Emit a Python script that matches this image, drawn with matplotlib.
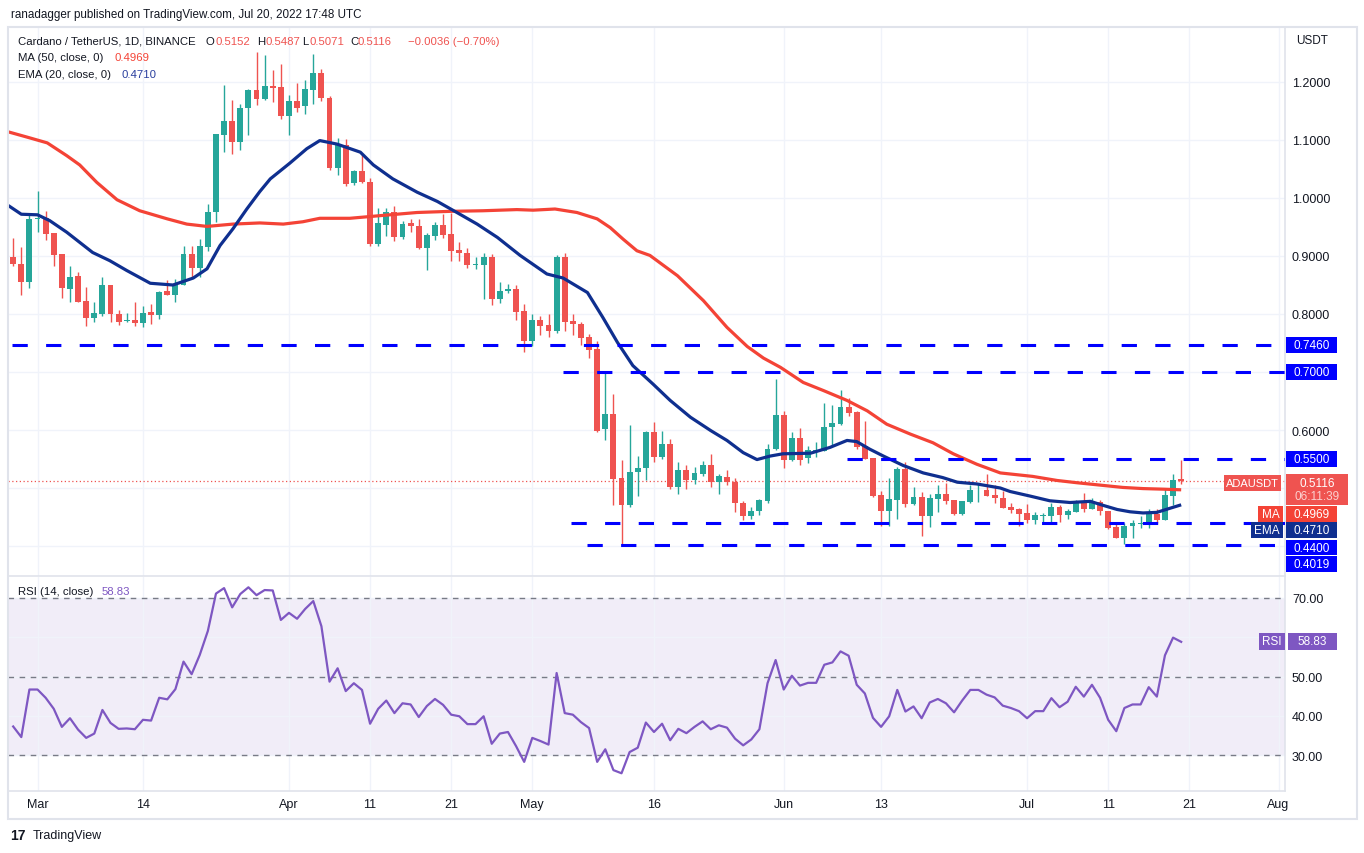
import numpy as np
import pandas as pd
import matplotlib
matplotlib.use('Agg')
import matplotlib.pyplot as plt
from matplotlib.patches import Rectangle

plt.rcParams['font.family'] = ['Liberation Sans', 'DejaVu Sans']

W, H = 1364, 854
BASE = pd.Timestamp('2022-03-01')

# ADA/USDT daily candles, Feb 26 .. Jul 20 2022
dates = pd.date_range('2022-02-26', '2022-07-20', freq='D')
opens = [0.898, 0.886, 0.856, 0.963, 0.966, 0.940, 0.903, 0.843, 0.865, 0.822,
         0.793, 0.800, 0.850, 0.800, 0.788, 0.790, 0.785, 0.803, 0.798, 0.840,
         0.833, 0.850, 0.903, 0.879, 0.916, 0.975, 1.109, 1.133, 1.097, 1.155,
         1.186, 1.171, 1.193, 1.191, 1.142, 1.167, 1.158, 1.187, 1.216, 1.172,
         1.052, 1.091, 1.025, 1.047, 1.027, 0.920, 0.954, 0.975, 0.933, 0.957,
         0.952, 0.914, 0.935, 0.953, 0.938, 0.910, 0.906, 0.885, 0.884, 0.898,
         0.825, 0.839, 0.843, 0.805, 0.754, 0.790, 0.781, 0.770, 0.899, 0.788,
         0.782, 0.760, 0.740, 0.601, 0.628, 0.517, 0.470, 0.527, 0.535, 0.596,
         0.554, 0.576, 0.502, 0.531, 0.513, 0.524, 0.540, 0.511, 0.519, 0.511,
         0.475, 0.452, 0.461, 0.478, 0.567, 0.626, 0.549, 0.586, 0.552, 0.564,
         0.564, 0.606, 0.610, 0.639, 0.631, 0.572, 0.551, 0.488, 0.461, 0.480,
         0.533, 0.472, 0.484, 0.451, 0.481, 0.489, 0.479, 0.455, 0.476, 0.496,
         0.497, 0.488, 0.483, 0.467, 0.464, 0.457, 0.445, 0.452, 0.452, 0.467,
         0.453, 0.459, 0.476, 0.463, 0.476, 0.460, 0.432, 0.413, 0.435, 0.438,
         0.439, 0.455, 0.444, 0.487, 0.5152]
highs = [0.931, 0.915, 0.970, 1.012, 0.977, 0.940, 0.903, 0.882, 0.872, 0.847,
         0.820, 0.864, 0.850, 0.807, 0.802, 0.820, 0.814, 0.817, 0.839, 0.859,
         0.860, 0.918, 0.918, 0.930, 0.990, 1.111, 1.194, 1.169, 1.162, 1.188,
         1.251, 1.247, 1.221, 1.231, 1.178, 1.199, 1.204, 1.248, 1.222, 1.176,
         1.103, 1.102, 1.048, 1.076, 1.034, 0.982, 0.983, 0.987, 0.960, 0.964,
         0.964, 0.939, 0.959, 0.972, 0.974, 0.924, 0.913, 0.899, 0.905, 0.903,
         0.856, 0.852, 0.850, 0.817, 0.800, 0.796, 0.800, 0.901, 0.906, 0.800,
         0.786, 0.766, 0.754, 0.699, 0.662, 0.549, 0.609, 0.555, 0.599, 0.613,
         0.598, 0.585, 0.544, 0.539, 0.536, 0.547, 0.559, 0.524, 0.531, 0.518,
         0.478, 0.468, 0.481, 0.576, 0.688, 0.632, 0.597, 0.603, 0.572, 0.580,
         0.647, 0.643, 0.669, 0.656, 0.633, 0.615, 0.551, 0.495, 0.517, 0.537,
         0.544, 0.501, 0.493, 0.490, 0.506, 0.508, 0.479, 0.478, 0.506, 0.507,
         0.524, 0.506, 0.495, 0.474, 0.465, 0.472, 0.458, 0.457, 0.474, 0.471,
         0.464, 0.480, 0.491, 0.482, 0.480, 0.461, 0.438, 0.439, 0.445, 0.451,
         0.463, 0.464, 0.498, 0.524, 0.5487]
lows = [0.882, 0.833, 0.844, 0.941, 0.928, 0.883, 0.827, 0.820, 0.820, 0.779,
        0.787, 0.797, 0.786, 0.781, 0.787, 0.780, 0.777, 0.782, 0.791, 0.832,
        0.821, 0.850, 0.863, 0.863, 0.909, 0.959, 1.079, 1.075, 1.083, 1.108,
        1.161, 1.169, 1.165, 1.136, 1.108, 1.149, 1.144, 1.162, 1.167, 1.049,
        1.040, 1.021, 1.022, 1.025, 0.918, 0.917, 0.935, 0.925, 0.930, 0.941,
        0.912, 0.875, 0.928, 0.931, 0.892, 0.892, 0.880, 0.878, 0.826, 0.816,
        0.819, 0.837, 0.790, 0.735, 0.745, 0.764, 0.761, 0.767, 0.771, 0.763,
        0.747, 0.725, 0.596, 0.582, 0.471, 0.402, 0.468, 0.487, 0.513, 0.544,
        0.550, 0.499, 0.490, 0.498, 0.507, 0.520, 0.501, 0.490, 0.505, 0.459,
        0.444, 0.447, 0.454, 0.474, 0.566, 0.535, 0.547, 0.539, 0.543, 0.553,
        0.563, 0.572, 0.608, 0.625, 0.568, 0.550, 0.484, 0.435, 0.435, 0.447,
        0.467, 0.470, 0.418, 0.433, 0.459, 0.473, 0.453, 0.453, 0.474, 0.476,
        0.486, 0.474, 0.466, 0.457, 0.434, 0.440, 0.438, 0.442, 0.442, 0.442,
        0.447, 0.458, 0.458, 0.463, 0.453, 0.429, 0.413, 0.403, 0.413, 0.431,
        0.431, 0.440, 0.444, 0.471, 0.5071]
closes = [0.886, 0.856, 0.964, 0.965, 0.938, 0.902, 0.844, 0.863, 0.821, 0.793,
          0.802, 0.850, 0.800, 0.787, 0.789, 0.785, 0.802, 0.799, 0.838, 0.833,
          0.850, 0.903, 0.879, 0.917, 0.976, 1.110, 1.133, 1.097, 1.155, 1.186,
          1.171, 1.193, 1.190, 1.142, 1.167, 1.156, 1.188, 1.216, 1.173, 1.052,
          1.091, 1.024, 1.047, 1.028, 0.920, 0.957, 0.976, 0.933, 0.956, 0.951,
          0.914, 0.937, 0.953, 0.937, 0.909, 0.906, 0.884, 0.886, 0.898, 0.825,
          0.839, 0.843, 0.804, 0.754, 0.790, 0.780, 0.770, 0.899, 0.787, 0.782,
          0.759, 0.738, 0.598, 0.628, 0.516, 0.470, 0.527, 0.534, 0.597, 0.554,
          0.576, 0.502, 0.531, 0.513, 0.526, 0.540, 0.511, 0.521, 0.511, 0.475,
          0.452, 0.461, 0.479, 0.568, 0.626, 0.549, 0.586, 0.549, 0.566, 0.566,
          0.606, 0.612, 0.639, 0.629, 0.570, 0.550, 0.487, 0.461, 0.481, 0.533,
          0.472, 0.484, 0.451, 0.482, 0.489, 0.478, 0.455, 0.477, 0.497, 0.497,
          0.487, 0.482, 0.466, 0.462, 0.455, 0.445, 0.453, 0.453, 0.467, 0.453,
          0.460, 0.477, 0.463, 0.477, 0.460, 0.431, 0.413, 0.435, 0.440, 0.440,
          0.457, 0.444, 0.488, 0.514, 0.5116]

# MA(50) and EMA(20) read at sample points (days from Mar 1)
ma_day = [-3.6, -1.3, 1.2, 3.6, 5.2, 7.3, 9.8, 12.6, 16.0, 18.4, 20.9, 24.1, 27.4,
          30.3, 32.7, 34.8, 38.5, 42.6, 46.8, 50.9, 54.9, 59.1, 61.1, 63.8, 66.5,
          69.0, 70.6, 72.2, 73.9, 75.5, 78.9, 82.1, 85.0, 87.5, 89.5, 91.6, 94.4,
          96.9, 99.8, 102.3, 104.7, 107.6, 110.4, 112.9, 115.8, 118.7, 122.7,
          125.7, 128.2, 131.0, 133.8, 136.3, 138.8, 141.0]
ma_val = [1.114, 1.105, 1.095, 1.073, 1.057, 1.027, 0.997, 0.978, 0.964, 0.955,
          0.951, 0.955, 0.957, 0.955, 0.959, 0.965, 0.965, 0.970, 0.975, 0.977,
          0.978, 0.980, 0.979, 0.981, 0.975, 0.964, 0.949, 0.929, 0.909, 0.901,
          0.866, 0.823, 0.777, 0.744, 0.724, 0.708, 0.682, 0.668, 0.651, 0.633,
          0.610, 0.593, 0.578, 0.559, 0.541, 0.526, 0.520, 0.513, 0.509, 0.505,
          0.501, 0.499, 0.498, 0.4969]
ema_day = [-3.6, -2.0, 0.0, 1.5, 3.6, 6.8, 8.9, 11.0, 13.9, 16.7, 19.2, 20.9,
           22.5, 24.1, 25.8, 27.4, 28.7, 31.1, 33.2, 34.8, 36.9, 39.8, 41.4, 43.8,
           46.8, 49.3, 51.7, 54.2, 56.7, 59.5, 62.8, 64.8, 67.8, 69.7, 71.5, 73.4,
           75.9, 78.0, 80.5, 83.0, 85.0, 87.0, 88.7, 90.3, 91.9, 95.3, 97.7, 99.8,
           101.0, 102.6, 104.3, 106.7, 109.2, 111.6, 113.4, 115.8, 118.7, 119.9,
           122.4, 124.8, 127.3, 129.8, 131.4, 133.1, 134.7, 136.3, 138.0, 139.6,
           141.0]
ema_val = [0.987, 0.972, 0.971, 0.961, 0.941, 0.906, 0.892, 0.875, 0.853, 0.850,
           0.862, 0.878, 0.918, 0.947, 0.981, 1.011, 1.033, 1.060, 1.085, 1.099,
           1.093, 1.079, 1.057, 1.033, 1.010, 0.994, 0.975, 0.955, 0.932, 0.901,
           0.869, 0.862, 0.837, 0.794, 0.751, 0.711, 0.679, 0.651, 0.622, 0.599,
           0.582, 0.561, 0.549, 0.555, 0.559, 0.560, 0.570, 0.582, 0.580, 0.567,
           0.555, 0.539, 0.526, 0.518, 0.510, 0.507, 0.500, 0.494, 0.486, 0.478,
           0.475, 0.477, 0.470, 0.463, 0.459, 0.457, 0.458, 0.465, 0.4710]

# RSI(14), one value per candle
rsi = [37.3, 34.6, 46.7, 46.7, 44.6, 41.8, 37.2, 39.4, 36.5, 34.4, 35.5, 41.5,
       38.2, 36.7, 36.8, 36.6, 39.0, 38.8, 44.6, 44.2, 46.8, 53.8, 50.6, 55.5,
       61.6, 71.1, 72.5, 67.6, 71.0, 72.7, 70.7, 72.0, 71.9, 64.4, 66.2, 64.7,
       67.2, 69.2, 62.8, 48.7, 52.1, 46.3, 48.3, 46.6, 38.0, 41.8, 43.9, 40.7,
       43.2, 42.9, 39.7, 42.5, 44.3, 42.8, 40.3, 39.9, 37.9, 37.9, 39.9, 32.9,
       35.5, 35.9, 32.3, 28.3, 34.4, 33.6, 32.7, 50.9, 40.7, 40.3, 38.4, 36.9,
       28.3, 31.5, 26.2, 25.4, 30.8, 31.9, 38.3, 35.9, 38.0, 33.8, 36.7, 35.6,
       37.2, 38.6, 36.6, 37.6, 37.0, 34.2, 32.5, 34.0, 36.6, 48.3, 54.2, 46.7,
       50.2, 47.7, 48.4, 48.4, 53.0, 53.6, 56.4, 55.3, 47.9, 45.7, 39.5, 37.2,
       39.9, 46.6, 41.1, 42.4, 39.4, 43.4, 44.3, 43.2, 40.9, 43.9, 46.6, 46.6,
       45.4, 44.7, 42.6, 42.0, 41.2, 39.4, 41.2, 41.2, 44.5, 42.2, 43.6, 47.4,
       44.9, 47.9, 44.6, 39.0, 36.1, 42.0, 42.9, 42.9, 47.3, 44.9, 55.4, 59.9,
       58.83]

# hand-drawn support / resistance levels and the day each starts
level_prices = [0.7460, 0.7000, 0.5500, 0.4400, 0.4019]
level_start = ['2022-02-26', '2022-05-05', '2022-06-09', '2022-05-06', '2022-05-08']

tick_dates = ['2022-03-01', '2022-03-14', '2022-04-01', '2022-04-11', '2022-04-21',
              '2022-05-01', '2022-05-16', '2022-06-01', '2022-06-13', '2022-07-01',
              '2022-07-11', '2022-07-21', '2022-08-01']
tick_labels = ['Mar', '14', 'Apr', '11', '21', 'May', '16', 'Jun', '13', 'Jul',
               '11', '21', 'Aug']

UP, DOWN = '#26a69a', '#ef5350'
MA_C, EMA_C = '#f44336', '#0f2f8f'
LVL_C = '#0000ff'
RSI_C = '#7e57c2'
TXT = '#131722'
GRID = '#f0f3fa'
BORDER = '#e0e3eb'
LEG = 8.2   # legend text size


def day_of(d):
    return (pd.Timestamp(d) - BASE).days


def fx(x):
    return x / W


def fy(y):
    return 1 - y / H


days = np.array((dates - BASE).days, dtype=float)
o, h, l, c = map(np.array, (opens, highs, lows, closes))
cols = np.where(c >= o, UP, DOWN)
xt = [day_of(d) for d in tick_dates]

fig = plt.figure(figsize=(W / 100, H / 100), dpi=100)
fig.patch.set_facecolor('white')

ax = fig.add_axes([fx(8), fy(577), (1285 - 8) / W, (577 - 28) / H])
ax2 = fig.add_axes([fx(8), fy(792), (1285 - 8) / W, (792 - 578) / H])

for a in (ax, ax2):
    a.set_xlim(-3.64, 153.8)
    for s in ('top', 'left'):
        a.spines[s].set_visible(False)
    for s in ('right', 'bottom'):
        a.spines[s].set_color(BORDER)
        a.spines[s].set_linewidth(1.2)
    a.yaxis.tick_right()
    a.set_xticks(xt)
    a.grid(True, color=GRID, lw=1.0, zorder=0)
    a.tick_params(length=0, labelsize=9, labelcolor=TXT, pad=5)
    a.set_axisbelow(True)

# price panel
ax.set_ylim(0.3483, 1.2948)
pt = [0.4, 0.5, 0.6, 0.7, 0.8, 0.9, 1.0, 1.1, 1.2]
ax.set_yticks(pt)
ax.set_yticklabels(['' if v in (0.4, 0.5, 0.7) else f'{v:.4f}' for v in pt])
ax.set_xticklabels([])

ax.axhline(c[-1], color=DOWN, lw=0.9, ls=(0, (1, 2)), zorder=1)
ax.vlines(days, l, h, colors=cols, lw=1.0, zorder=2)
body = np.maximum(np.abs(c - o), 0.0012)
ax.bar(days, body, bottom=np.minimum(o, c), width=0.72, color=cols, zorder=2)
ax.plot(ma_day, ma_val, color=MA_C, lw=2.3, zorder=3, solid_capstyle='butt')
ax.plot(ema_day, ema_val, color=EMA_C, lw=2.3, zorder=3, solid_capstyle='butt')
for p, s in zip(level_prices, level_start):
    ax.plot([day_of(s) - 0.2, 153.8], [p, p], color=LVL_C, lw=2.2,
            dashes=(5, 6), zorder=4)

# RSI panel
ax2.set_ylim(20.89, 75.32)
ax2.set_yticks([30, 40, 50, 60, 70])
ax2.set_yticklabels(['30.00', '40.00', '50.00', '', '70.00'])
ax2.set_xticklabels(tick_labels)
ax2.axhspan(30, 70, color=RSI_C, alpha=0.1, lw=0, zorder=0.5)
for v in (30, 50, 70):
    ax2.axhline(v, color='#787b86', lw=1.0, dashes=(4, 4), zorder=1)
ax2.plot(days, rsi, color=RSI_C, lw=1.6, zorder=3)

# outer frame
fig.add_artist(Rectangle((fx(8), fy(820)), (1357 - 8) / W, (820 - 28) / H,
                         transform=fig.transFigure, fill=False,
                         edgecolor=BORDER, lw=1.5))

# header texts
fig.text(fx(11), fy(15), 'ranadagger published on TradingView.com, Jul 20, 2022 17:48 UTC',
         color=TXT, size=8.4, va='center')
fig.text(fx(18), fy(42), 'Cardano / TetherUS, 1D, BINANCE', color=TXT, size=LEG, va='center')
ohlc = [('O', opens[-1], 206, 9), ('H', highs[-1], 257, 8),
        ('L', lows[-1], 302, 7), ('C', closes[-1], 350, 8)]
for k, v, x, off in ohlc:
    fig.text(fx(x), fy(42), k, color=TXT, size=LEG, va='center')
    fig.text(fx(x + off), fy(42), f'{v:.4f}', color=DOWN, size=LEG, va='center')
chg = closes[-1] - opens[-1]
fig.text(fx(408), fy(42), f'\u2212{abs(chg):.4f} (\u2212{abs(chg) / opens[-1] * 100:.2f}%)',
         color=DOWN, size=LEG, va='center')
fig.text(fx(18), fy(58), 'MA (50, close, 0)', color=TXT, size=LEG, va='center')
fig.text(fx(115), fy(58), f'{ma_val[-1]:.4f}', color=MA_C, size=LEG, va='center')
fig.text(fx(18), fy(75), 'EMA (20, close, 0)', color=TXT, size=LEG, va='center')
fig.text(fx(122), fy(75), f'{ema_val[-1]:.4f}', color='#2a3f9e', size=LEG, va='center')
fig.text(fx(18), fy(592), 'RSI (14, close)', color=TXT, size=LEG, va='center')
fig.text(fx(102), fy(592), f'{rsi[-1]:.2f}', color=RSI_C, size=LEG, va='center')
fig.text(fx(1296), fy(41), 'USDT', color=TXT, size=8.5, va='center')


def box(x0, y0, x1, y1, color, text, tcolor='white', size=8.5):
    fig.add_artist(Rectangle((fx(x0), fy(y1)), (x1 - x0) / W, (y1 - y0) / H,
                             transform=fig.transFigure, facecolor=color,
                             edgecolor='none', zorder=5))
    if text:
        fig.text(fx((x0 + x1) / 2), fy((y0 + y1) / 2), text, color=tcolor,
                 ha='center', va='center', size=size, zorder=6)


def price_y(p):
    return H - ax.transData.transform((0, p))[1]


for p in level_prices[:3]:
    yc = price_y(p)
    box(1286, yc - 8, 1337, yc + 8, LVL_C, f'{p:.4f}')
box(1286, 541, 1337, 556, LVL_C, f'{level_prices[3]:.4f}')
box(1286, 557, 1337, 573, LVL_C, f'{level_prices[4]:.4f}')
box(1224, 476, 1281, 492, DOWN, 'ADAUSDT', size=8)
box(1286, 475, 1348, 506, DOWN, '')
fig.text(fx(1317), fy(484), f'{closes[-1]:.4f}', color='white', size=8.5,
         ha='center', va='center', zorder=6)
fig.text(fx(1317), fy(497), '06:11:39', color='#fbd0cf', size=8.5,
         ha='center', va='center', zorder=6)
box(1258, 507, 1283, 523, MA_C, 'MA')
box(1286, 507, 1337, 523, MA_C, f'{ma_val[-1]:.4f}')
box(1251, 523, 1283, 539, EMA_C, 'EMA')
box(1286, 523, 1337, 539, EMA_C, f'{ema_val[-1]:.4f}')
box(1259, 634, 1285, 651, RSI_C, 'RSI')
box(1288, 634, 1337, 651, RSI_C, f'{rsi[-1]:.2f}')

# footer logo
fig.text(fx(10), fy(836), '17', color=TXT, size=10, weight='bold', va='center')
fig.text(fx(33), fy(836), 'TradingView', color=TXT, size=9, va='center')

fig.savefig('out.png', dpi=100, facecolor='white')
